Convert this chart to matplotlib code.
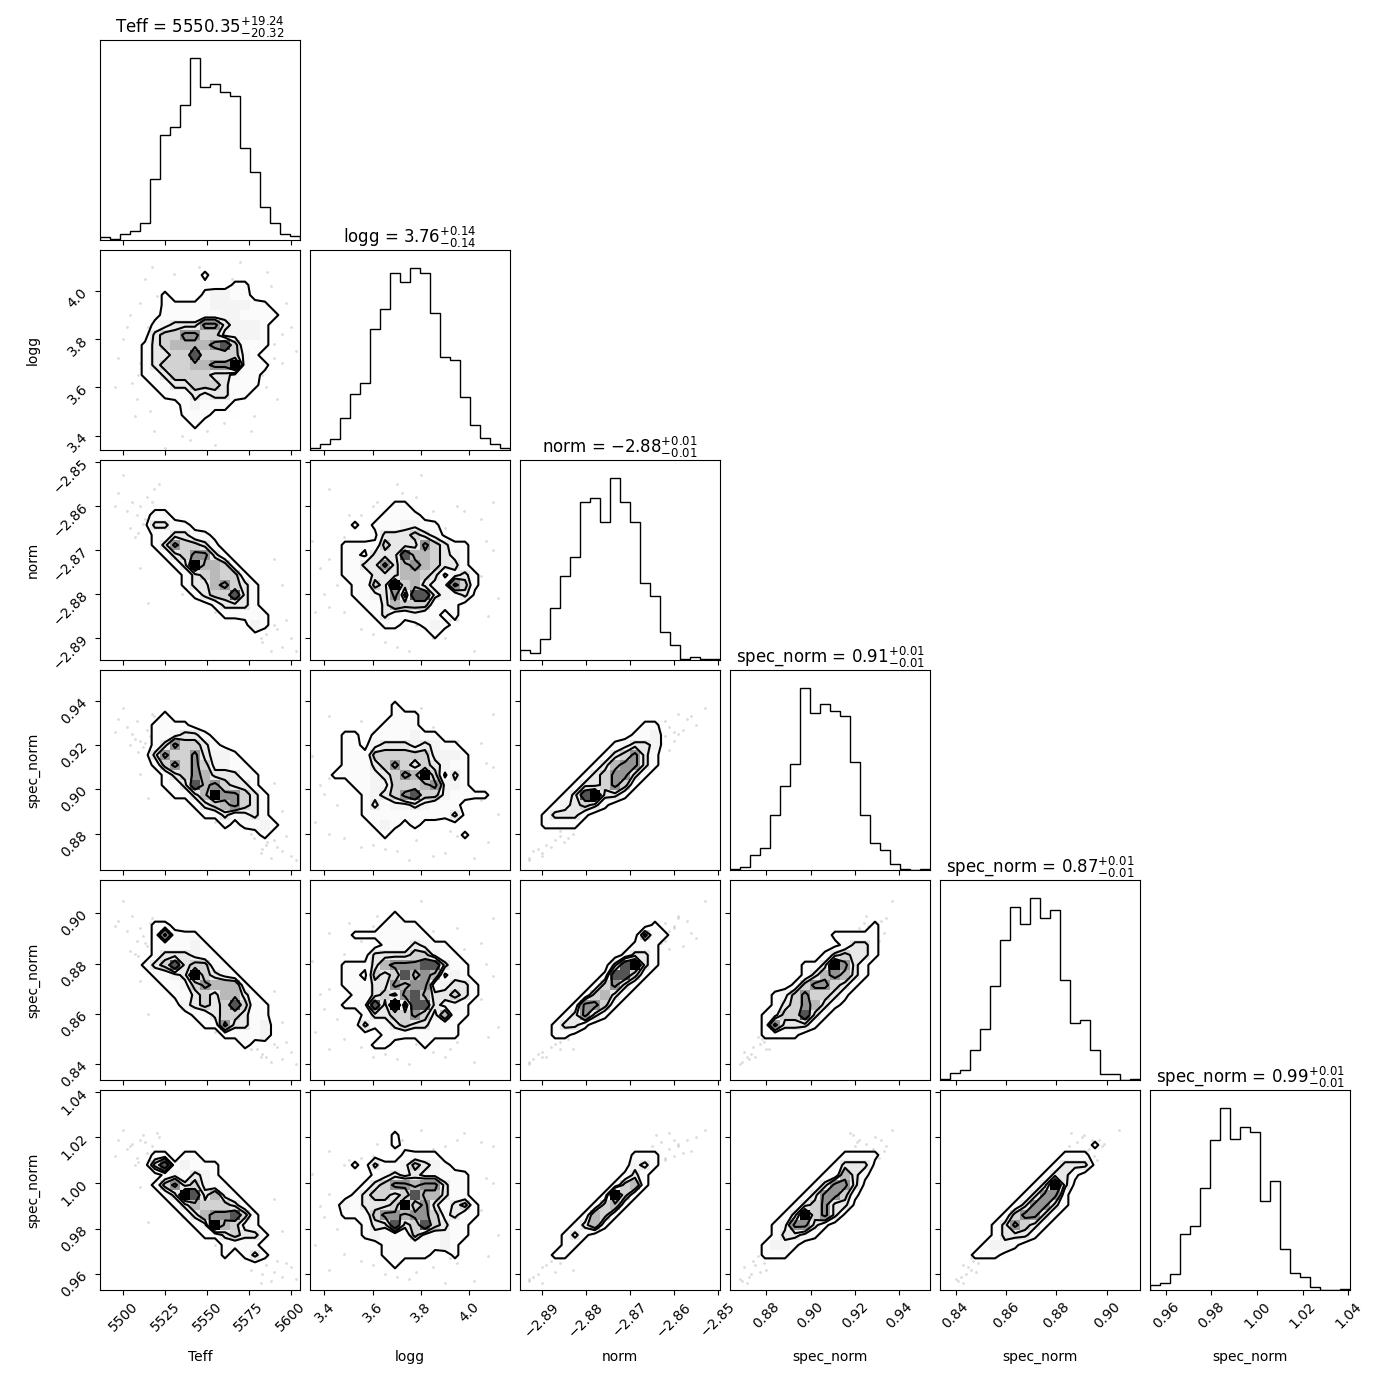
import matplotlib
matplotlib.use("Agg")
import matplotlib.pyplot as plt
import numpy as np
from matplotlib.colors import LinearSegmentedColormap, ListedColormap

names = ["Teff", "logg", "norm", "spec_norm", "spec_norm", "spec_norm"]
medians = ["5550.35", "3.76", "-2.88", "0.91", "0.87", "0.99"]
err_lo = ["20.32", "0.14", "0.01", "0.01", "0.01", "0.01"]
err_hi = ["19.24", "0.14", "0.01", "0.01", "0.01", "0.01"]
limits = [(5486.0, 5605.6), (3.34, 4.17), (-2.895, -2.8495),
          (0.8635, 0.954), (0.8338, 0.9132), (0.9531, 1.0407)]
ticks = [[5500, 5525, 5550, 5575, 5600], [3.4, 3.6, 3.8, 4.0],
         [-2.89, -2.88, -2.87, -2.86, -2.85], [0.88, 0.90, 0.92, 0.94],
         [0.84, 0.86, 0.88, 0.90], [0.96, 0.98, 1.00, 1.02, 1.04]]
tick_fmt = ["%d", "%.1f", "%.2f", "%.2f", "%.2f", "%.2f"]

# histogram heights, counted off the picture
hist_teff = [3, 1, 6, 9, 17, 61, 105, 113, 135, 182, 153, 156, 148, 144, 92, 68, 33, 17, 6, 4]
hist_logg = [2, 6, 11, 32, 56, 67, 121, 141, 177, 168, 182, 177, 137, 93, 90, 53, 25, 12, 6, 2]
hist_norm = [10, 7, 21, 52, 84, 103, 158, 162, 138, 182, 158, 138, 77, 64, 28, 15, 1, 3, 1, 1]
hist_sn1 = [1, 3, 15, 22, 55, 84, 106, 182, 157, 166, 159, 154, 108, 55, 27, 20, 6, 1, 0, 1]
hist_sn2 = [1, 7, 10, 30, 51, 94, 140, 173, 156, 182, 162, 170, 100, 57, 60, 30, 6, 6, 0, 1]
hist_sn3 = [5, 7, 16, 56, 64, 102, 150, 182, 151, 163, 158, 89, 109, 41, 17, 13, 3, 0, 0, 1]
hists = [hist_teff, hist_logg, hist_norm, hist_sn1, hist_sn2, hist_sn3]

# stray samples outside the contours
s_teff = [5497, 5502, 5505, 5508, 5510, 5512, 5514, 5516, 5504, 5518, 5500, 5509, 5513, 5495, 5521, 5520, 5507, 5517,
          5580, 5585, 5590, 5595, 5600, 5578, 5588, 5592, 5583, 5597, 5576, 5603, 5586, 5582,
          5535, 5550, 5560, 5545, 5565, 5530, 5570, 5540, 5510, 5515, 5590, 5595, 5525, 5555]
s_logg = [3.72, 3.85, 3.62, 3.55, 3.95, 3.68, 3.78, 3.50, 3.90, 3.42, 3.80, 3.65, 4.05, 3.60, 3.70, 3.98, 3.48, 4.10,
          3.92, 3.60, 3.78, 3.70, 3.85, 3.48, 4.02, 3.55, 3.65, 3.95, 3.42, 3.75, 4.08, 3.90,
          3.40, 3.42, 3.45, 4.10, 4.05, 4.07, 4.12, 3.38, 3.70, 3.85, 3.72, 3.82, 3.35, 3.36]
s_norm = [-2.857, -2.861, -2.859, -2.862, -2.860, -2.864, -2.858, -2.862, -2.865, -2.856, -2.853, -2.866, -2.863, -2.860, -2.855, -2.861, -2.867, -2.859,
          -2.886, -2.889, -2.887, -2.892, -2.890, -2.884, -2.893, -2.888, -2.891, -2.886, -2.883, -2.893, -2.885, -2.890,
          -2.880, -2.872, -2.878, -2.870, -2.876, -2.868, -2.881, -2.874, -2.874, -2.882, -2.872, -2.878, -2.868, -2.884]
s_sn1 = [0.932, 0.928, 0.925, 0.931, 0.922, 0.919, 0.927, 0.924, 0.920, 0.933, 0.937, 0.917, 0.921, 0.926, 0.929, 0.918, 0.923, 0.934,
         0.881, 0.875, 0.877, 0.872, 0.870, 0.878, 0.869, 0.874, 0.873, 0.879, 0.880, 0.868, 0.876, 0.871,
         0.898, 0.905, 0.893, 0.910, 0.895, 0.912, 0.889, 0.902, 0.907, 0.896, 0.903, 0.890, 0.915, 0.885]
s_sn2 = [0.897, 0.893, 0.899, 0.889, 0.894, 0.891, 0.887, 0.896, 0.885, 0.892, 0.905, 0.883, 0.888, 0.895, 0.890, 0.886, 0.884, 0.898,
         0.846, 0.843, 0.848, 0.842, 0.845, 0.850, 0.841, 0.847, 0.844, 0.849, 0.846, 0.840, 0.851, 0.843,
         0.862, 0.870, 0.858, 0.875, 0.866, 0.880, 0.855, 0.868, 0.873, 0.860, 0.869, 0.857, 0.881, 0.853]
s_sn3 = [1.019, 1.015, 1.017, 1.011, 1.019, 1.021, 1.013, 1.010, 1.016, 1.014, 1.023, 1.009, 1.018, 1.012, 1.020, 1.022, 1.008, 1.016,
         0.967, 0.964, 0.961, 0.959, 0.963, 0.969, 0.957, 0.966, 0.960, 0.965, 0.962, 0.958, 0.968, 0.956,
         0.985, 0.995, 0.980, 1.000, 0.988, 1.002, 0.977, 0.990, 0.998, 0.983, 0.993, 0.979, 1.004, 0.973]
samples = [s_teff, s_logg, s_norm, s_sn1, s_sn2, s_sn3]

# density per cell, top row first, one digit per bin (short rows are zero filled)
shades = [0, 0.04, 0.12, 0.20, 0.30, 0.42, 0.52, 0.65, 0.82, 1.0]
levels = [0.08, 0.25, 0.36, 0.58]

g10 = ["", "", "00000000002", "00000000001002200", "0000002000233221", "00000022222333322",
       "000001222222332222", "00000234447743332", "00000455775533332", "00002456666785222",
       "0000244558555532", "00002455566779222", "00002245555443221", "0000022445554222",
       "000000222434422", "00000001232221", "00000000222111", "0000000002"]
g20 = ["", "", "", "", "0011111", "00011221", "0000144221", "000002244221", "000002475542",
       "0000002457742", "00000002496652", "000000002456552", "0000000024467542", "0000000002455842",
       "0000000000024442", "00000000000022222", "00000000000000132", "0000000000000001"]
g21 = ["", "", "", "", "0000000022", "000000022221", "0000202223322", "00000014445431",
       "0002222544475422", "0002214448665432", "0002244746765442", "00022244466541342",
       "00002254956433752", "00002234738843241", "000002246555222", "000000242232212",
       "000000022112321", "0000000000002"]
g30 = ["", "", "", "", "0000002", "000002222", "000002234421", "0000024755421", "00000475574332",
       "000002575753322", "0000002457644422", "0000002248675442", "00000002246977542",
       "00000000024567542", "00000000002242342", "000000000000212232", "00000000000000012"]
g31 = ["", "", "", "000000002", "00000000222", "00000002222", "0002202222322", "000221344434322",
       "0002225555553332", "0002224575454322", "0022223457695142", "0000223355567332",
       "000002345785532222", "0000024233432221", "0000022222222241", "0000002321211",
       "0000000200000002"]
g32 = ["", "", "", "", "", "00000000000022", "00000000000223", "00000000023443", "00000000245742",
       "00000002467742", "0000002457742", "000002445752", "00002489442", "000234542", "0024442",
       "002222"]
g40 = ["", "", "", "", "00000221", "0000027222", "00000222232", "000002444322", "0000245845522",
       "00000223495432", "000000223576662", "0000000224546642", "00000000345458522",
       "00000000022455422", "00000000002274423", "00000000000022223", "0000000000000021"]
g41 = ["", "", "", "000000002", "00000002222", "000022222222", "00000002224322", "000000444455322",
       "0002224677788422", "0002215458676132", "00022244767723442", "00002245478644542",
       "0002238493884332", "0000024455753622", "000004224544222", "000000022222222", "000000221002"]
g42 = ["", "", "", "", "00000000000002", "000000000000522", "00000000000222", "00000000002442",
       "00000000048942", "0000000028852", "000000025742", "00000025642", "0000027752", "000024742",
       "0002442", "000221"]
g43 = ["", "", "", "", "000000000000002", "000000000022222", "000000000012442", "000000000245442",
       "00000002249742", "00000002467642", "0000002577542", "000023575542", "000024576421",
       "0002355842", "000274442", "0002222"]
g50 = ["", "", "", "", "", "", "0000022022", "000005823222", "000000232432", "0000025745322",
       "00000024984632", "000000024655542", "0000000024677852", "0000000002396532",
       "00000000002245442", "0000000000002222", "00000000000020242"]
g51 = ["", "", "", "", "000000002", "0000000021", "0000000002222", "000020422354321",
       "0000002343433222", "0000024577677422", "0000245545866422", "00032444595742452",
       "00022257767753422", "0000024484585422", "0000023222532322", "000000022222232",
       "000000022222102", "000000002"]
g52 = ["", "", "", "", "", "", "00000000000222", "00000000000342", "0000000000242", "0000000002562",
       "000000002952", "00000002562", "0000002652", "000002462", "0000242", "000022", "00022"]
g53 = ["", "", "", "", "", "", "000000000002222", "000000000024441", "00000000022642",
       "00000000247741", "0000000247752", "0000002457441", "000002495741", "0000237742",
       "000024432", "0002332", "000222"]
g54 = ["", "", "", "", "", "0000000000000002", "000000000000222", "0000000000024441",
       "00000000002442", "00000000024941", "0000000024772", "0000000247742", "000000257742",
       "00000247542", "0000024442", "00002332", "0002221"]
grids = {(1, 0): g10, (2, 0): g20, (2, 1): g21, (3, 0): g30, (3, 1): g31, (3, 2): g32,
         (4, 0): g40, (4, 1): g41, (4, 2): g42, (4, 3): g43,
         (5, 0): g50, (5, 1): g51, (5, 2): g52, (5, 3): g53, (5, 4): g54}

N = 20
density_cmap = LinearSegmentedColormap.from_list("density_cmap", [(1, 1, 1, 0), (0, 0, 0, 1)])
white_cmap = ListedColormap(["white"])


def read_grid(rows):
    rows = rows + [""] * (N - len(rows))
    H = np.array([[shades[int(c)] for c in r.ljust(N, "0")[:N]] for r in rows])
    return H[::-1]


def draw_2d(ax, col, row):
    H = read_grid(grids[(row, col)])
    xe = np.linspace(*limits[col], N + 1)
    ye = np.linspace(*limits[row], N + 1)
    xc = 0.5 * (xe[1:] + xe[:-1])
    yc = 0.5 * (ye[1:] + ye[:-1])
    ax.plot(samples[col], samples[row], "o", color="k", ms=2.0, mec="none", alpha=0.14, zorder=-1)
    ax.contourf(xc, yc, H, [levels[0], 1.01], cmap=white_cmap, antialiased=False)
    ax.pcolormesh(xe, ye, H, cmap=density_cmap, vmin=0, vmax=1)
    ax.contour(xc, yc, H, levels, colors="k", linewidths=1.5)


def tick_text(i):
    return [(tick_fmt[i] % t).replace("-", "\u2212") for t in ticks[i]]


fig, axes = plt.subplots(6, 6, figsize=(13.9, 13.9))
fig.subplots_adjust(left=100 / 1390, right=1350 / 1390, top=1 - 40 / 1390, bottom=1 - 1290 / 1390,
                    wspace=0.05, hspace=0.05)

for row in range(6):
    for col in range(6):
        ax = axes[row, col]
        if col > row:
            ax.set_frame_on(False)
            ax.set_xticks([])
            ax.set_yticks([])
            continue
        if col == row:
            edges = np.linspace(*limits[col], N + 1)
            ax.stairs(hists[col], edges, color="k", lw=1.0)
            ax.set_xlim(limits[col])
            ax.set_ylim(0, 1.1 * max(hists[col]))
            ax.set_yticks([])
            ax.set_title("%s = $%s_{-%s}^{+%s}$" % (names[col], medians[col], err_lo[col], err_hi[col]), pad=5)
        else:
            draw_2d(ax, col, row)
            ax.set_xlim(limits[col])
            ax.set_ylim(limits[row])
            ax.set_yticks(ticks[row])
            if col == 0:
                ax.set_yticklabels(tick_text(row), rotation=45)
                ax.set_ylabel(names[row])
                ax.yaxis.set_label_coords(-0.3, 0.5)
            else:
                ax.set_yticklabels([])
        ax.set_xticks(ticks[col])
        if row == 5:
            ax.set_xticklabels(tick_text(col), rotation=45)
            ax.set_xlabel(names[col])
            ax.xaxis.set_label_coords(0.5, -0.3)
        else:
            ax.set_xticklabels([])

fig.savefig("out.png", dpi=100)
